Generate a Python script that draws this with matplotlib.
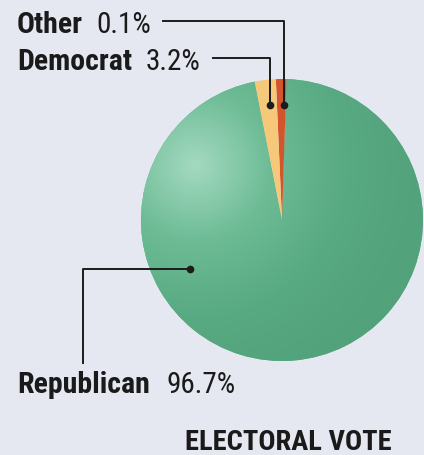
import numpy as np
import matplotlib
matplotlib.use('Agg')
from matplotlib import pyplot as plt
from matplotlib.colors import LinearSegmentedColormap

# electoral vote shares
parties = ['Other', 'Democrat', 'Republican']
label_pct = ['0.1%', '3.2%', '96.7%']
# wedge sizes as they are drawn in the original (small slices widened)
wedge_size = [1.2, 2.4, 96.4]
colors = ['#d4552c', '#f6c87a', '#5fb28b']
title = 'ELECTORAL VOTE'

W, H = 424, 455
BG = '#e5e7f1'
CX, CY, R = 282, 220, 141   # pie centre / radius in image pixels

font = ['Roboto Condensed', 'DejaVu Sans']


def y(v):
    # image row -> plot coordinate
    return H - v


fig = plt.figure(figsize=(W / 100, H / 100), dpi=100, facecolor=BG)
ax = fig.add_axes([0, 0, 1, 1])

wedges, _ = ax.pie(wedge_size, colors=colors, startangle=88.2,
                   counterclock=True, center=(CX, y(CY)), radius=R,
                   wedgeprops=dict(linewidth=0))

# shading on the big green slice, light from upper left
gx, gy = np.meshgrid(np.linspace(0, W, 300), np.linspace(0, H, 300))
d = np.hypot(gx - 195, gy - y(165)) / 230.0
d = np.clip(d, 0, 1)
cmap = LinearSegmentedColormap.from_list('g', ['#a3d9c0', '#6cbb95', '#58aa82', '#52a27b'])
img = ax.imshow(d, cmap=cmap, extent=[0, W, 0, H], origin='lower',
                interpolation='bilinear', zorder=1)
img.set_clip_path(wedges[2])
for w in wedges[:2]:
    w.set_zorder(2)

# leader lines and dots
lc = '#1c1c1c'
ax.plot([163, 284, 284], [y(21), y(21), y(105)], color=lc, lw=1.4, zorder=3)
ax.plot([213, 270, 270], [y(58), y(58), y(105)], color=lc, lw=1.4, zorder=3)
ax.plot([190, 83, 83], [y(269), y(269), y(363)], color=lc, lw=1.4, zorder=3)
ax.plot([284, 270, 190], [y(105), y(105), y(269)], 'o', color=lc, ms=4.5, zorder=4)

# labels
name_pos = [(17, 33), (17, 70), (17, 393)]
pct_x = [96, 146, 166]
for name, pct, (tx, ty), px in zip(parties, label_pct, name_pos, pct_x):
    ax.text(tx, y(ty), name, family=font, fontweight='bold', fontsize=21.5,
            color='#1a1a1a', va='baseline', ha='left', zorder=5)
    ax.text(px, y(ty), pct, family=font, fontsize=21,
            color='#1a1a1a', va='baseline', ha='left', zorder=5)

ax.text(392, y(450), title, family=font, fontweight='bold', fontsize=20.5,
        color='#1a1a1a', va='baseline', ha='right', zorder=5)

ax.set_xlim(0, W)
ax.set_ylim(0, H)
ax.set_aspect('equal')
ax.axis('off')

fig.savefig('out.png', dpi=100, facecolor=BG)
